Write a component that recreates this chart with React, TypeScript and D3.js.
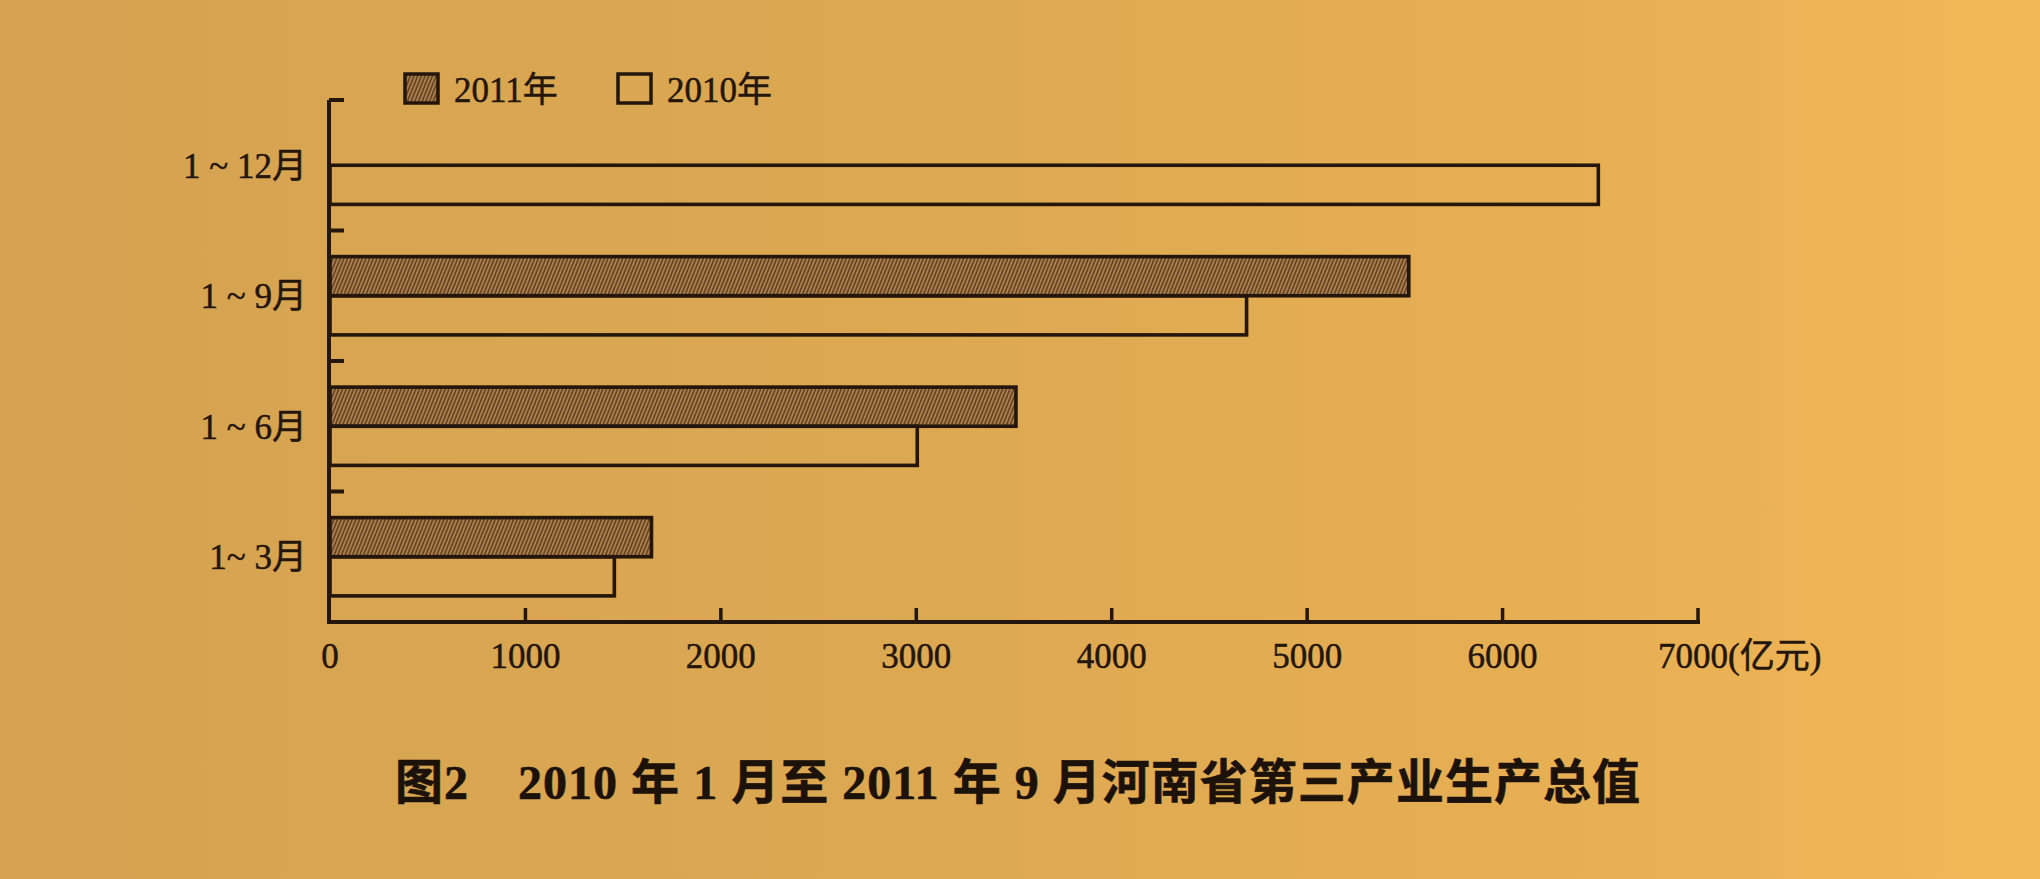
import { useRef, useEffect } from 'react';
import { select, scaleLinear, scaleBand } from 'd3';

// 河南省第三产业生产总值 (亿元)
const categories = ['1 ~ 12月', '1 ~ 9月', '1 ~ 6月', '1~ 3月'];
const seriesNames = ['2011年', '2010年'];
const values2011: (number | null)[] = [null, 5520, 3510, 1645];
const values2010: (number | null)[] = [6490, 4690, 3005, 1455];
const xTicks = [0, 1000, 2000, 3000, 4000, 5000, 6000, 7000];
const unitLabel = '(亿元)';
const title = '图2　2010 年 1 月至 2011 年 9 月河南省第三产业生产总值';

const W = 2040;
const H = 879;
const INK = '#24160b';
const SERIF = "'Liberation Serif', 'DejaVu Serif', 'Noto Sans CJK SC', serif";

export default function App() {
  const svgRef = useRef<SVGSVGElement>(null);

  useEffect(() => {
    if (!svgRef.current) return;
    const svg = select(svgRef.current);
    svg.selectAll('*').remove();

    const plot = { left: 330, right: 1698, top: 100, bottom: 622 };

    const defs = svg.append('defs');
    const bg = defs.append('linearGradient').attr('id', 'paper')
      .attr('x1', '0').attr('y1', '0').attr('x2', '1').attr('y2', '0');
    bg.append('stop').attr('offset', '0%').attr('stop-color', '#d5a351');
    bg.append('stop').attr('offset', '45%').attr('stop-color', '#dca852');
    bg.append('stop').attr('offset', '80%').attr('stop-color', '#e8b054');
    bg.append('stop').attr('offset', '100%').attr('stop-color', '#f3b757');

    const hatch = defs.append('pattern').attr('id', 'hatch')
      .attr('patternUnits', 'userSpaceOnUse').attr('width', 3.4).attr('height', 10)
      .attr('patternTransform', 'rotate(22)');
    hatch.append('rect').attr('width', 3.4).attr('height', 10).attr('fill', '#b08450');
    hatch.append('line').attr('x1', 1).attr('x2', 1).attr('y1', 0).attr('y2', 10)
      .attr('stroke', '#5e3d20').attr('stroke-width', 1.6);

    svg.append('rect').attr('width', W).attr('height', H).attr('fill', 'url(#paper)');

    const x = scaleLinear().domain([0, 7000]).range([plot.left, plot.right]);
    const y = scaleBand<string>().domain(categories).range([plot.top, plot.bottom]).padding(0);
    const sub = scaleBand<string>().domain(seriesNames).range([0, y.bandwidth()])
      .paddingInner(0).paddingOuter(0.667);

    const g = svg.append('g');

    // Bars
    const rows = categories.flatMap((c, i) => [
      { cat: c, series: seriesNames[0], value: values2011[i] },
      { cat: c, series: seriesNames[1], value: values2010[i] },
    ]).filter(d => d.value != null);

    g.selectAll('.bar').data(rows).join('rect')
      .attr('x', x(0))
      .attr('y', d => (y(d.cat) ?? 0) + (sub(d.series) ?? 0))
      .attr('width', d => x(d.value as number) - x(0))
      .attr('height', sub.bandwidth())
      .attr('fill', d => d.series === seriesNames[0] ? 'url(#hatch)' : 'none')
      .attr('stroke', INK).attr('stroke-width', 3.6);

    // Y axis with ticks at category boundaries
    g.append('line').attr('x1', plot.left - 1).attr('x2', plot.left - 1)
      .attr('y1', plot.top).attr('y2', plot.bottom + 2)
      .attr('stroke', INK).attr('stroke-width', 4);
    g.selectAll('.ytick').data(categories).join('line')
      .attr('x1', plot.left - 1).attr('x2', plot.left + 14)
      .attr('y1', d => y(d) ?? 0).attr('y2', d => y(d) ?? 0)
      .attr('stroke', INK).attr('stroke-width', 4);

    const textStyle = (sel: any) => sel
      .attr('fill', INK).attr('stroke', INK).attr('stroke-width', 0.5)
      .style('font-family', SERIF).style('font-size', '35px');

    g.selectAll('.ylabel').data(categories).join('text')
      .attr('x', plot.left - 23)
      .attr('y', d => (y(d) ?? 0) + y.bandwidth() / 2)
      .attr('dy', '0.36em')
      .attr('text-anchor', 'end')
      .call(textStyle)
      .text(d => d);

    // X axis
    g.append('line').attr('x1', plot.left - 3).attr('x2', x(7000) + 2)
      .attr('y1', plot.bottom).attr('y2', plot.bottom)
      .attr('stroke', INK).attr('stroke-width', 4);
    g.selectAll('.xtick').data(xTicks.slice(1)).join('line')
      .attr('x1', d => x(d)).attr('x2', d => x(d))
      .attr('y1', plot.bottom).attr('y2', plot.bottom - 14)
      .attr('stroke', INK).attr('stroke-width', 3.5);

    const last = xTicks[xTicks.length - 1];
    g.selectAll('.xlabel').data(xTicks).join('text')
      .attr('x', d => d === last ? x(d) - 40 : x(d))
      .attr('y', plot.bottom + 46)
      .attr('text-anchor', d => d === last ? 'start' : 'middle')
      .call(textStyle)
      .text(d => d === last ? `${d}${unitLabel}` : `${d}`);

    // Legend
    const legend = svg.append('g');
    const legendX = [405, 618];
    seriesNames.forEach((s, i) => {
      legend.append('rect').attr('x', legendX[i]).attr('y', 74).attr('width', 33).attr('height', 29)
        .attr('fill', i === 0 ? 'url(#hatch)' : 'none').attr('stroke', INK).attr('stroke-width', 3.5);
      legend.append('text').attr('x', legendX[i] + 49).attr('y', 102)
        .call(textStyle)
        .text(s);
    });

    // Title
    svg.append('text').attr('x', 395).attr('y', 799)
      .attr('fill', '#1c1209').attr('stroke', '#1c1209').attr('stroke-width', 0.6)
      .attr('textLength', 1245).attr('lengthAdjust', 'spacing')
      .style('font-family', "'Liberation Serif', 'Noto Sans CJK SC', serif")
      .style('font-weight', 'bold').style('font-size', '48px')
      .text(title);
  }, []);

  return (
    <svg ref={svgRef} width={W} height={H}
      style={{ position: 'absolute', left: 0, top: 0, display: 'block' }} />
  );
}
